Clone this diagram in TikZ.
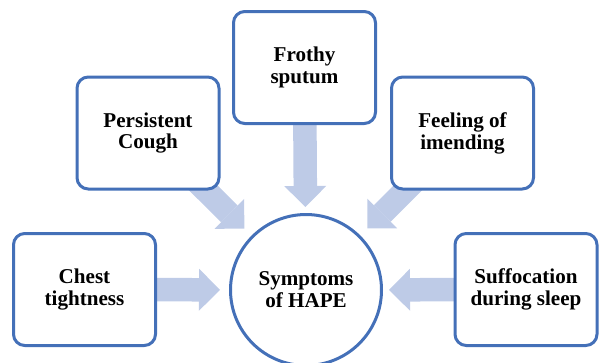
\documentclass[tikz,border=0pt]{standalone}
\usepackage{fontspec}
\setmainfont{Liberation Serif}
\usetikzlibrary{arrows.meta, backgrounds}
\definecolor{boxblue}{RGB}{68,112,184}
\definecolor{arrowblue}{RGB}{190,203,231}

\begin{document}
\begin{tikzpicture}[font=\fontsize{24}{25}\selectfont\bfseries, line join=round,
	symbox/.style={draw=boxblue, line width=0.12cm, rounded corners=0.45cm, fill=white, minimum width=5.68cm, minimum height=4.48cm, align=center},
	centrecircle/.style={draw=boxblue, line width=0.12cm, circle, fill=white, minimum size=6.04cm, align=center},
	bigarrow/.style={draw=arrowblue, line width=0.94cm, -{Triangle[length=0.84cm, width=1.68cm, line width=0pt]}, shorten >=0.3cm}]
	
	\useasboundingbox (0, 0) rectangle (23.96, -14.48);
	
	% Tâm
	\node[centrecircle] (hape) at (12.24, -11.6) {Symptoms\\of HAPE};
	
	% Các triệu chứng
	\node[symbox] (chest) at (3.38, -11.58) {Chest\\tightness};
	\node[symbox] (cough) at (5.92, -5.32) {Persistent\\Cough};
	\node[symbox] (sputum) at (12.18, -2.7) {Frothy\\sputum};
	\node[symbox] (imending) at (18.5, -5.32) {Feeling of\\imending};
	\node[symbox] (sleep) at (21.04, -11.58) {Suffocation\\during sleep};
	
	% Mũi tên
	\begin{scope}[on background layer]
		\draw[bigarrow, shorten >=0.36cm] (chest.center) -- (hape);
		\draw[bigarrow, shorten >=0.4cm] (cough.center) -- (hape);
		\draw[bigarrow, shorten >=0.24cm] (sputum.center) -- (hape);
		\draw[bigarrow, shorten >=0.4cm] (imending.center) -- (hape);
		\draw[bigarrow, shorten >=0.24cm] (sleep.center) -- (hape);
	\end{scope}
	
\end{tikzpicture}
\end{document}
